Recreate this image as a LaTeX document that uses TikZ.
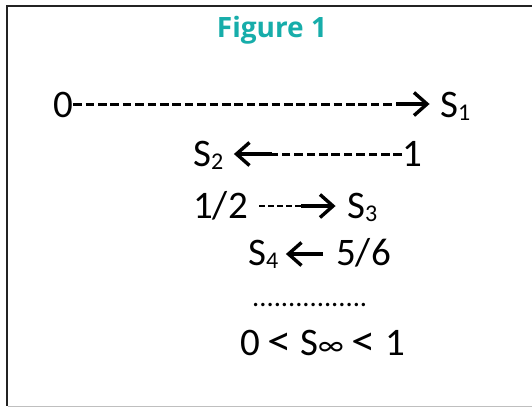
\documentclass[tikz,border=0pt]{standalone}
\usepackage{fontspec}
\newfontfamily\bodyfont{Carlito}
\newfontfamily\titlefont{Open Sans}
\definecolor{figteal}{RGB}{23,173,170}
\definecolor{framegray}{RGB}{35,35,35}
\newcommand\subsc[1]{\raisebox{-3pt}{\fontsize{24}{24}\selectfont #1}}
\newcommand\biglt{\scalebox{1.25}[1.1]{<}}
\tikzset{
  txt/.style={font=\bodyfont\fontsize{39}{39}\selectfont, inner sep=0pt, anchor=base west},
  dots/.style={font=\bodyfont\fontsize{28.5}{28.5}\selectfont, inner sep=0pt, anchor=base west},
  longdash/.style={line width=3pt, dash pattern=on 8.6pt off 3.8pt},
  shortdash/.style={line width=2pt, dash pattern=on 6pt off 3pt},
  shaft/.style={line width=3.3pt},
  chev/.pic={\draw[line width=3.4pt, miter limit=10] (-13,-11.5) -- (0,0) -- (-13,11.5);},
}
\begin{document}
\begin{tikzpicture}[x=1pt, y=-1pt]
\useasboundingbox (0,0) rectangle (532,408);
% frame
\draw[framegray, line width=2.2pt] (532,6.3) -- (7,6.3) -- (7,406);
\draw[black!25, line width=1pt] (8,406.7) -- (532,406.7);
% title
\node[font=\titlefont\bfseries\fontsize{28}{28}\selectfont, text=figteal, inner sep=0pt, anchor=base] (title) at (272,37) {Figure 1};
% line 1
\node[txt] (z0) at (53,117) {0};
\node[txt] (s1) at (440,117) {S\subsc{1}};
\coordinate (d1) at (396,104);
\coordinate (t1) at ([xshift=-13pt]s1.west |- d1);
\draw[longdash] (z0.east |- d1) -- (d1);
\draw[shaft] (d1) -- ([xshift=-2pt]t1);
\pic at (t1) {chev};
% line 2
\node[txt] (s2) at (193,166) {S\subsc{2}};
\node[txt] (one) at (402,166) {1};
\coordinate (d2) at (272,154);
\coordinate (t2) at ([xshift=13pt]s2.east |- d2);
\draw[longdash] (one.west |- d2) -- (d2);
\draw[shaft] (d2) -- ([xshift=2pt]t2);
\pic[xscale=-1] at (t2) {chev};
% line 3
\node[txt] (half) at (193,218) {1/2};
\node[txt] (s3) at (347,218) {S\subsc{3}};
\coordinate (d3) at (301,206);
\coordinate (t3) at ([xshift=-14pt]s3.west |- d3);
\draw[shortdash] ([xshift=11pt]half.east |- d3) -- (d3);
\draw[shaft] (d3) -- ([xshift=-2pt]t3);
\pic at (t3) {chev};
% line 4
\node[txt] (s4) at (248,265) {S\subsc{4}};
\node[txt] (fiv) at (336,265) {5/6};
\coordinate (d4) at ([xshift=-13pt]fiv.west |- 0,254);
\coordinate (t4) at ([xshift=10pt]s4.east |- 0,254);
\draw[shaft] (d4) -- ([xshift=2pt]t4);
\pic[xscale=-1] at (t4) {chev};
% dots
\node[dots] (dd) at (252,306) {................};
% last line
\node[txt] (lim) at (240,355) {0\hspace{8pt}\biglt\hspace{8pt}S{\fontsize{30}{30}\selectfont ∞}\hspace{8pt}\biglt\hspace{9pt}1};
\end{tikzpicture}
\end{document}
